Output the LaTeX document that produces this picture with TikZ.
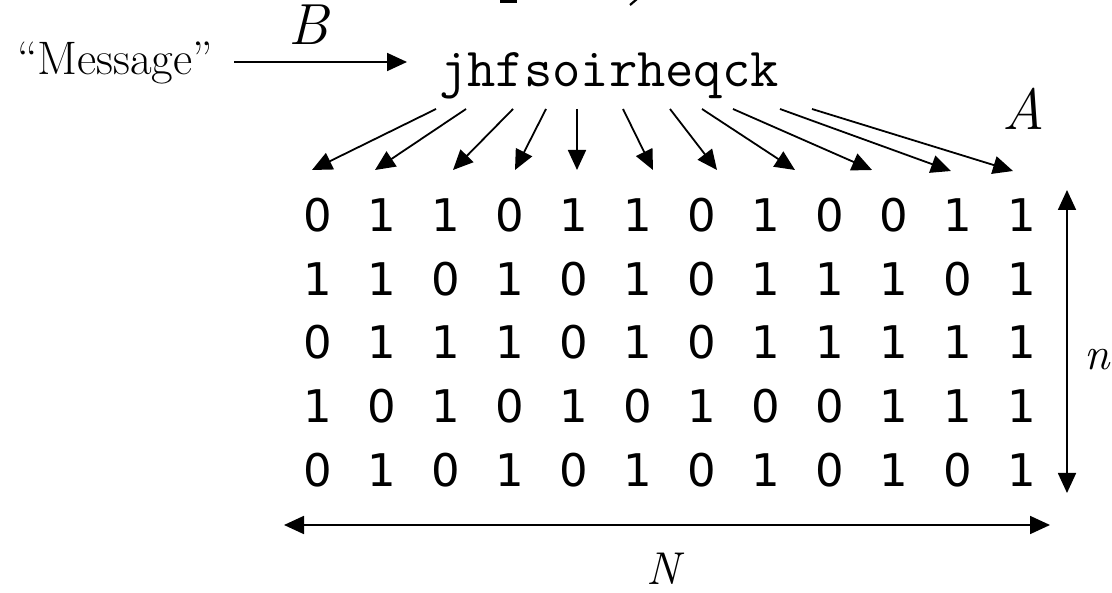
\documentclass[tikz,border=0pt]{standalone}
\usepackage{fontspec}
\usetikzlibrary{arrows.meta}
\newfontfamily\digitfont{DejaVu Sans}
\begin{document}
\begin{tikzpicture}[x=1pt,y=-1pt,
  arr/.style={line width=1.8pt,-{Triangle[length=20pt,width=18pt]}},
  darr/.style={line width=1.8pt,{Triangle[length=20pt,width=18pt]}-{Triangle[length=20pt,width=18pt]}},
  digit/.style={font=\digitfont\fontsize{45}{54}\selectfont,anchor=base,inner sep=0pt},
  lbl/.style={font=\fontsize{58}{66}\selectfont\itshape,anchor=base,inner sep=0pt},
  smalllbl/.style={font=\fontsize{46}{54}\selectfont\itshape,anchor=base,inner sep=0pt}]
\useasboundingbox (0,0) rectangle (1112,593);
% cut-off fragments at the top edge
\fill (500,0) rectangle (517,2.6);
\draw[line width=2.2pt] (637,-1) -- (630,5);
% message and encoding arrow
\node[font=\fontsize{47}{56}\selectfont,anchor=base west,inner sep=0pt] (msg) at (17,75) {``Message''};
\coordinate (b0) at (234,62);
\coordinate (b1) at (407,62);
\draw[arr] (b0) -- (b1);
\node[lbl] (B) at (308,45) {B};
\node[font=\ttfamily\fontsize{55}{62}\selectfont,anchor=base,inner sep=0pt] (code) at (609,87) {jhfsoirheqck};
\node[lbl] (A) at (1024,130) {A};
% arrows from the code string to the grid
\foreach \sx/\tx/\ty [count=\i] in {436/312/170,466/375/170,513/453/170,546/515/170,577/577/170,623/653/170,670/717/170,702/795/170,733/872/170,780/951/171,812/1013/171}{
  \coordinate (s\i) at (\sx,109);
  \coordinate (t\i) at (\tx,\ty);
  \draw[arr] (s\i) -- (t\i);
}
% digit grid
\foreach \row [count=\r] in {{0,1,1,0,1,1,0,1,0,0,1,1},{1,1,0,1,0,1,0,1,1,1,0,1},{0,1,1,1,0,1,0,1,1,1,1,1},{1,0,1,0,1,0,1,0,0,1,1,1},{0,1,0,1,0,1,0,1,0,1,0,1}}{
  \foreach \v [count=\c] in \row {
    \node[digit] (d\r-\c) at ({318+64*(\c-1)},{231.5+63.75*(\r-1)}) {\v};
  }
}
% dimension arrows
\coordinate (n0) at (1067,190);
\coordinate (n1) at (1067,493);
\draw[darr] (n0) -- (n1);
\node[smalllbl] (n) at (1097,370) {n};
\coordinate (N0) at (284,525);
\coordinate (N1) at (1050,525);
\draw[darr] (N0) -- (N1);
\node[smalllbl] (N) at (663,584) {N};
\end{tikzpicture}
\end{document}
